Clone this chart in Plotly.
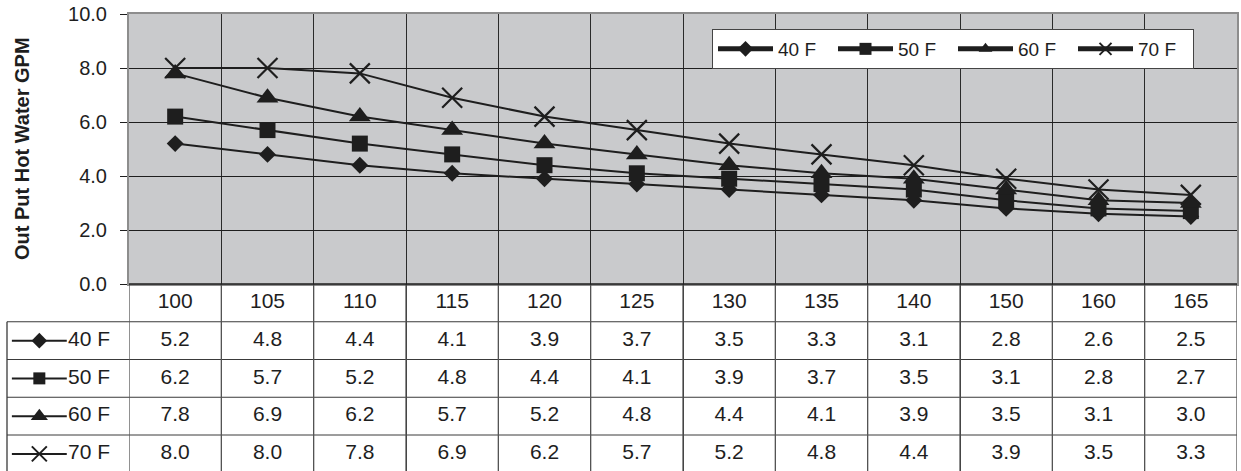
import plotly.graph_objects as go

# ---- data ----
categories = ["100", "105", "110", "115", "120", "125", "130", "135", "140", "150", "160", "165"]
series_names = ["40 F", "50 F", "60 F", "70 F"]
s40 = [5.2, 4.8, 4.4, 4.1, 3.9, 3.7, 3.5, 3.3, 3.1, 2.8, 2.6, 2.5]
s50 = [6.2, 5.7, 5.2, 4.8, 4.4, 4.1, 3.9, 3.7, 3.5, 3.1, 2.8, 2.7]
s60 = [7.8, 6.9, 6.2, 5.7, 5.2, 4.8, 4.4, 4.1, 3.9, 3.5, 3.1, 3.0]
s70 = [8.0, 8.0, 7.8, 6.9, 6.2, 5.7, 5.2, 4.8, 4.4, 3.9, 3.5, 3.3]
y_title = "Out Put Hot Water GPM"

series_values = [s40, s50, s60, s70]

# ---- styling ----
W, H = 1241, 471
FONT = "Liberation Sans, Arial, sans-serif"
INK = "#1e1e1e"
symbols = ["diamond", "square", "triangle-up", "x-thin-open"]
sizes = [13, 16, 19, 20]
key_sizes = [12, 12, 15, 15]

def px_x(p):
    return p / W

def px_y(p):
    return 1 - p / H

plot_left, plot_right, plot_top, plot_bottom = 129, 1237, 14, 284
table_left = 7
row_h = 37.75
n_rows = 5
table_bottom_rows = (H - plot_bottom) / row_h

fig = go.Figure()

# main chart lines
for name, vals, sym, sz in zip(series_names, series_values, symbols, sizes):
    fig.add_trace(go.Scatter(
        x=categories, y=vals, name=name, mode="lines+markers",
        line=dict(color=INK, width=2),
        marker=dict(symbol=sym, size=sz, color=INK,
                    line=dict(color=INK, width=2.2 if sym.startswith("x") else 0)),
        xaxis="x", yaxis="y", cliponaxis=False,
    ))

# table header (category labels)
fig.add_trace(go.Scatter(
    x=categories, y=[0.5] * len(categories), mode="text", text=categories,
    textfont=dict(family=FONT, size=21, color=INK), showlegend=False,
    xaxis="x", yaxis="y2", hoverinfo="skip", cliponaxis=False,
))

# table values
for r, vals in enumerate(series_values):
    fig.add_trace(go.Scatter(
        x=categories, y=[r + 1.5] * len(categories), mode="text",
        text=[f"{v:.1f}" for v in vals],
        textfont=dict(family=FONT, size=21, color=INK), showlegend=False,
        xaxis="x", yaxis="y2", hoverinfo="skip", cliponaxis=False,
    ))

# table legend keys
for r, (name, sym, sz) in enumerate(zip(series_names, symbols, key_sizes)):
    yy = r + 1.5
    fig.add_trace(go.Scatter(
        x=[0.04, 0.49], y=[yy, yy], mode="lines", line=dict(color=INK, width=2),
        showlegend=False, xaxis="x3", yaxis="y2", hoverinfo="skip", cliponaxis=False,
    ))
    fig.add_trace(go.Scatter(
        x=[0.265], y=[yy], mode="markers",
        marker=dict(symbol=sym, size=sz, color=INK,
                    line=dict(color=INK, width=2 if sym.startswith("x") else 0)),
        showlegend=False, xaxis="x3", yaxis="y2", hoverinfo="skip", cliponaxis=False,
    ))
    fig.add_trace(go.Scatter(
        x=[0.5], y=[yy], mode="text", text=[name], textposition="middle right",
        textfont=dict(family=FONT, size=21, color=INK),
        showlegend=False, xaxis="x3", yaxis="y2", hoverinfo="skip", cliponaxis=False,
    ))

shapes = []
LINE = "#3a3a3a"
# gray plot area background
shapes.append(dict(type="rect", xref="x domain", yref="y domain",
                   x0=0, x1=1, y0=0, y1=1, layer="below",
                   fillcolor="#c9cacc", line=dict(width=0)))
# horizontal table lines
for k in range(1, n_rows):
    shapes.append(dict(type="line", xref="paper", yref="y2",
                       x0=px_x(table_left), x1=px_x(plot_right), y0=k, y1=k,
                       line=dict(color=LINE, width=1)))
# vertical table lines at category boundaries
for i in range(len(categories) + 1):
    shapes.append(dict(type="line", xref="x", yref="y2",
                       x0=i - 0.5, x1=i - 0.5, y0=0, y1=table_bottom_rows,
                       line=dict(color="#555555", width=1.3)))
# left border of table
shapes.append(dict(type="line", xref="paper", yref="y2",
                   x0=px_x(table_left), x1=px_x(table_left), y0=1, y1=table_bottom_rows,
                   line=dict(color=LINE, width=1.3)))
# bottom axis line of chart
shapes.append(dict(type="line", xref="x domain", yref="y domain",
                   x0=0, x1=1, y0=0, y1=0, line=dict(color=INK, width=1.5)))

fig.update_layout(
    width=W, height=H,
    margin=dict(l=0, r=0, t=0, b=0, pad=0, autoexpand=False),
    paper_bgcolor="white",
    plot_bgcolor="rgba(0,0,0,0)",
    font=dict(family=FONT, size=20, color=INK),
    shapes=shapes,
    xaxis=dict(
        domain=[px_x(plot_left), px_x(plot_right)],
        type="category", range=[-0.5, len(categories) - 0.5],
        tickson="boundaries", showgrid=True, gridcolor="#2a2a2a", gridwidth=1,
        showticklabels=False, ticks="",
        showline=True, mirror=True, linecolor="#8d8d8d", linewidth=2,
        anchor="y", fixedrange=True, automargin=False,
    ),
    yaxis=dict(
        domain=[px_y(plot_bottom), px_y(plot_top)],
        range=[0, 10], dtick=2, tickformat=".1f",
        showgrid=True, gridcolor="#1e1e1e", gridwidth=1,
        zeroline=False,
        ticks="outside", ticklen=7, tickcolor=INK, tickwidth=1,
        ticklabelstandoff=9,
        tickfont=dict(family=FONT, size=20, color=INK),
        showline=True, mirror=True, linecolor="#8d8d8d", linewidth=2,
        anchor="x", automargin=False,
    ),
    yaxis2=dict(
        domain=[0, px_y(plot_bottom)],
        range=[table_bottom_rows, 0],
        showgrid=False, zeroline=False, showticklabels=False, ticks="",
        anchor="x", automargin=False,
    ),
    xaxis3=dict(
        domain=[px_x(table_left), px_x(plot_left)],
        range=[0, 1], showgrid=False, zeroline=False, showticklabels=False,
        ticks="", anchor="y2", automargin=False,
    ),
    legend=dict(
        orientation="h", x=px_x(712), y=px_y(29), xanchor="left", yanchor="top",
        bgcolor="white", bordercolor="#444444", borderwidth=1,
        font=dict(family=FONT, size=19, color=INK),
        itemsizing="constant", itemwidth=55, entrywidth=50, tracegroupgap=0,
    ),
    annotations=[dict(
        text="<b>" + y_title + "</b>", xref="paper", yref="paper",
        x=px_x(22), y=px_y((plot_top + plot_bottom) / 2), textangle=-90,
        showarrow=False, font=dict(family=FONT, size=20, color=INK),
        xanchor="center", yanchor="middle",
    )],
    showlegend=True,
)

fig.write_html(
    "out.html",
    config={"displayModeBar": False},
    post_script="document.body.style.margin='0';document.body.style.padding='0';",
)
